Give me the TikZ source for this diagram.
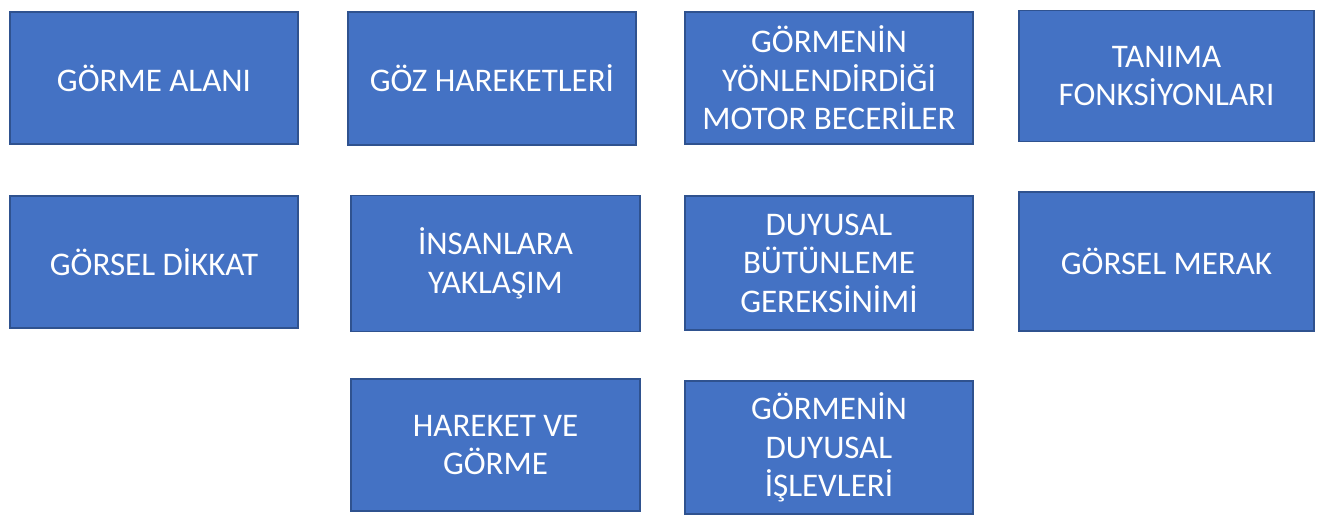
\documentclass[tikz,border=0pt]{standalone}
\usepackage{fontspec}
\setmainfont{Carlito}
\definecolor{boxblue}{HTML}{4472C4}
\definecolor{boxline}{HTML}{2F528F}
\tikzset{
	konu/.style={draw=boxline, line width=1.5pt, fill=boxblue, text=white,
		align=center, inner sep=0pt, font=\fontsize{33}{38.5}\selectfont},
}

\begin{document}
\begin{tikzpicture}[x=1pt, y=-1pt]
		%%%%% START %%%%%
		\useasboundingbox (0, 0) rectangle (1320, 526);
		
		\node[konu, minimum width=288, minimum height=132] (alan) at (154, 78) {GÖRME ALANI};
		\node[konu, minimum width=288, minimum height=133] (goz) at (492, 78.5) {GÖZ HAREKETLERİ};
		\node[konu, minimum width=288, minimum height=132] (motor) at (829, 78) {GÖRMENİN\\YÖNLENDİRDİĞİ\\MOTOR BECERİLER};
		\node[konu, minimum width=295, minimum height=131] (tanima) at (1166.5, 76) {TANIMA\\FONKSİYONLARI};
		
		\node[konu, minimum width=288, minimum height=132] (dikkat) at (154, 262) {GÖRSEL DİKKAT};
		\node[konu, minimum width=289, minimum height=136] (insan) at (495.5, 263.5) {İNSANLARA\\YAKLAŞIM};
		\node[konu, minimum width=288, minimum height=134] (butunleme) at (829, 263) {DUYUSAL\\BÜTÜNLEME\\GEREKSİNİMİ};
		\node[konu, minimum width=295, minimum height=139] (merak) at (1166.5, 261.5) {GÖRSEL MERAK};
		
		\node[konu, minimum width=289, minimum height=132] (hareket) at (495.5, 445) {HAREKET VE\\GÖRME};
		\node[konu, minimum width=288, minimum height=133] (islev) at (829, 447.5) {GÖRMENİN\\DUYUSAL\\İŞLEVLERİ};
		%%%%% END %%%%%
	\end{tikzpicture}
\end{document}
